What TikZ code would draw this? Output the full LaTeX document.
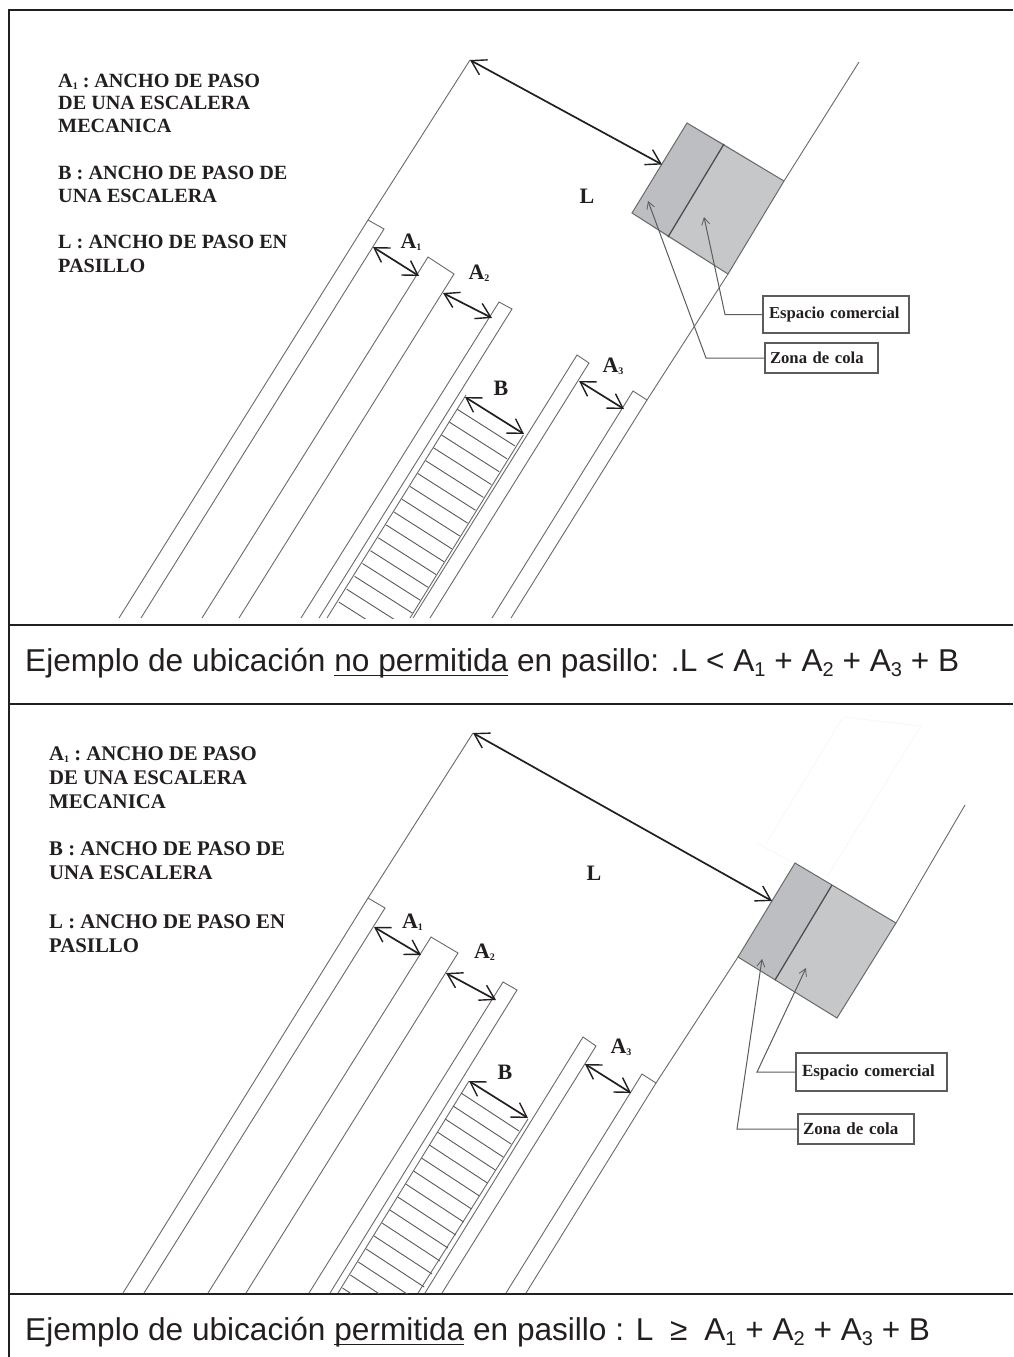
\documentclass[tikz,border=0pt]{standalone}
\usepackage{fontspec}
\setmainfont{Liberation Serif}
\newfontfamily\capfont{Liberation Sans}
\usetikzlibrary{arrows.meta}
\definecolor{ink}{HTML}{231F20}
\definecolor{wall}{HTML}{6A6A6A}
\definecolor{stepc}{HTML}{5A5A5A}
\definecolor{leaderc}{HTML}{5C5C5C}
\definecolor{queue}{HTML}{BDBEC2}
\definecolor{shop}{HTML}{C6C7C9}
\definecolor{ghost}{HTML}{F7F7F7}
\newcommand{\fsz}[1]{\fontsize{#1}{#1}\selectfont}
\newcommand{\lsub}[1]{\raisebox{-0.12em}{\fontsize{10}{10}\selectfont #1}}
\newcommand{\csub}[1]{\raisebox{-0.17em}{\fontsize{20}{20}\selectfont #1}}
\newcommand{\capul}[1]{\sbox0{#1}\rlap{\rule[-5pt]{\wd0}{1.5pt}}\copy0\relax}
\tikzset{
  x=1pt,y=-1pt,
  frameline/.style={draw=ink,line width=2pt},
  wallline/.style={draw=wall,line width=0.9pt},
  stepline/.style={draw=stepc,line width=0.9pt},
  dim/.style={draw=ink,line width=1.7pt,{Straight Barb[length=14pt,width=17pt,line width=1.4pt]}-{Straight Barb[length=14pt,width=17pt,line width=1.4pt]}},
  leader/.style={draw=leaderc,line width=1pt,-{Straight Barb[length=7pt,width=8pt,line width=0.8pt]}},
  box/.style={draw=leaderc,line width=1.1pt,fill=white,inner sep=0pt,anchor=center},
  legendup/.style={font=\bfseries\fsz{20.2}\color{ink},anchor=base west,inner sep=0pt},
  legendlo/.style={font=\bfseries\fsz{20.8}\color{ink},anchor=base west,inner sep=0pt},
  dimlabel/.style={font=\bfseries\fsz{22}\color{ink},inner sep=0pt,anchor=base},
  caption/.style={font=\capfont\fsz{31.6}\color{ink},inner sep=0pt,anchor=base west},
  zone/.style={draw=wall,line width=1pt},
}
\begin{document}
\begin{tikzpicture}
\useasboundingbox (0,0) rectangle (1013,1357);
\fill[white] (0,0) rectangle (1013,1357);
% frame
\draw[frameline] (9,1357) -- (9,10) -- (1013,10);
\draw[frameline] (9,625) -- (1013,625);
\draw[frameline] (9,704) -- (1013,704);
\draw[frameline] (9,1294) -- (1013,1294);

%%%%%%%%%% upper panel
\node[legendup] (ta) at (58,87) {A\lsub{1} :\hspace{-2pt} ANCHO DE PASO};
\node[legendup] (tb) at (58,109) {DE UNA ESCALERA};
\node[legendup] (tc) at (58,132) {MECANICA};
\node[legendup] (td) at (58,179) {B : ANCHO DE PASO DE};
\node[legendup] (te) at (58,202) {UNA ESCALERA};
\node[legendup] (tf) at (58,248) {L : ANCHO DE PASO EN};
\node[legendup] (tg) at (58,272) {PASILLO};

% walls and rails
\draw[wallline] (470,60) coordinate (tLw) -- (368,220) -- (119,618);
\draw[wallline] (368,220) -- (384,229) -- (141,618);
\draw[wallline] (202,618) -- (428,257) -- (454,274) -- (239,618);
\draw[wallline] (301,618) -- (499,302) -- (512,309) -- (319,618);
\draw[wallline] (466,395) -- (327,618);
\draw[wallline] (523.3,435) -- (410,618);
\draw[wallline] (413,618) -- (577,355) -- (589,363) -- (430,618);
\draw[wallline] (492,618) -- (633,391) -- (647,400) -- (511,618);
\draw[wallline] (647,400) -- (728,274);
\draw[wallline] (784,181) -- (859,62);
% steps
\begin{scope}
\clip (300,380) rectangle (560,618);
\foreach \i in {0,...,15}
  \draw[stepline] ({457.3-7.9*\i},{409.3+12.85*\i}) -- ++(57.7,36.7);
\end{scope}
% zone
\fill[queue] (687,123) -- (724,144) -- (668,237) -- (632,213) -- cycle;
\fill[shop] (724,144) -- (784,181) -- (728,274) -- (668,237) -- cycle;
\draw[zone] (687,123) -- (784,181) -- (728,274) -- (632,213) -- cycle;
\draw[draw=ink!80,line width=1.3pt] (724,144) -- (668,237);

% dimensions
\coordinate (tLz) at (662,164.5);
\draw[dim] (tLw) -- (tLz);
\coordinate (tA1a) at (373,247); \coordinate (tA1b) at (419,276);
\draw[dim] (tA1a) -- (tA1b);
\coordinate (tA2a) at (443,293); \coordinate (tA2b) at (492,318);
\draw[dim] (tA2a) -- (tA2b);
\coordinate (tBa) at (465,397); \coordinate (tBb) at (524,434);
\draw[dim] (tBa) -- (tBb);
\coordinate (tA3a) at (579,381); \coordinate (tA3b) at (624,409);
\draw[dim] (tA3a) -- (tA3b);
\node[dimlabel] (tlL) at (587,203) {L};
\node[dimlabel] (tlA1) at (411,248) {A\lsub{1}};
\node[dimlabel] (tlA2) at (479,279) {A\lsub{2}};
\node[dimlabel] (tlB) at (501,395) {B};
\node[dimlabel] (tlA3) at (613,372) {A\lsub{3}};

% leaders
\node[box,font=\bfseries\fsz{16.7}\color{ink},minimum width=146pt,minimum height=37pt,text width=134pt,align=left] (tbE) at (836,314.5) {Espacio comercial};
\node[box,font=\bfseries\fsz{16.7}\color{ink},minimum width=113pt,minimum height=30pt,text width=103pt,align=left] (tbZ) at (821.5,358) {Zona de cola};
\coordinate (tcE) at (725,314.5); \coordinate (teE) at (704,217);
\coordinate (tcZ) at (706,358); \coordinate (teZ) at (648,201);
\draw[leader] (tbE.west) -- (tcE) -- (teE);
\draw[leader] (tbZ.west) -- (tcZ) -- (teZ);

% caption
\node[caption] (tcap) at (25,671) {Ejemplo de ubicación \capul{no permitida} en pasillo: .L < A\csub{1} + A\csub{2} + A\csub{3} + B};

%%%%%%%%%% lower panel
\node[legendlo] (ba) at (49,760) {A\lsub{1} :\hspace{-2pt} ANCHO DE PASO};
\node[legendlo] (bb) at (49,784) {DE UNA ESCALERA};
\node[legendlo] (bc) at (49,808) {MECANICA};
\node[legendlo] (bd) at (49,855) {B : ANCHO DE PASO DE};
\node[legendlo] (be) at (49,879) {UNA ESCALERA};
\node[legendlo] (bf) at (49,928) {L : ANCHO DE PASO EN};
\node[legendlo] (bg) at (49,952) {PASILLO};

% faint outline
\draw[ghost,line width=0.7pt] (766,844) -- (843,717) -- (921,726) -- (827,877);
\draw[ghost,line width=0.7pt] (757,843) -- (794,863);

% walls and rails
\draw[wallline] (473,733) coordinate (bLw) -- (368,898) -- (123,1293);
\draw[wallline] (368,898) -- (385,908) -- (144,1293);
\draw[wallline] (208,1293) -- (431,937) -- (458,953) -- (246,1293);
\draw[wallline] (309,1293) -- (503,982) -- (517,990) -- (330,1293);
\draw[wallline] (469,1081) -- (338,1293);
\draw[wallline] (528,1119) -- (418,1293);
\draw[wallline] (425,1293) -- (583,1037) -- (596,1046) -- (442,1293);
\draw[wallline] (506,1293) -- (642,1074) -- (656,1083) -- (526,1293);
\draw[wallline] (656,1083) -- (738,957);
\draw[wallline] (896,923) -- (965,805);
% steps
\begin{scope}
\clip (300,1060) rectangle (560,1293);
\foreach \i in {0,...,15}
  \draw[stepline] ({461-7.9*\i},{1093+13*\i}) -- ++(58,38);
\end{scope}
% zone
\fill[queue] (795,863) -- (832,885) -- (775,980) -- (738,957) -- cycle;
\fill[shop] (832,885) -- (896,923) -- (837,1018) -- (775,980) -- cycle;
\draw[zone] (795,863) -- (896,923) -- (837,1018) -- (738,957) -- cycle;
\draw[draw=ink!80,line width=1.3pt] (832,885) -- (775,980);

% dimensions
\coordinate (bLz) at (772,901);
\draw[dim] (bLw) -- (bLz);
\coordinate (bA1a) at (374,927); \coordinate (bA1b) at (421,955);
\draw[dim] (bA1a) -- (bA1b);
\coordinate (bA2a) at (446,973); \coordinate (bA2b) at (496,1000);
\draw[dim] (bA2a) -- (bA2b);
\coordinate (bBa) at (469,1081); \coordinate (bBb) at (528,1118);
\draw[dim] (bBa) -- (bBb);
\coordinate (bA3a) at (585,1064); \coordinate (bA3b) at (631,1093);
\draw[dim] (bA3a) -- (bA3b);
\node[dimlabel] (blL) at (594,880) {L};
\node[dimlabel] (blA1) at (412.5,928) {A\lsub{1}};
\node[dimlabel] (blA2) at (484.5,958) {A\lsub{2}};
\node[dimlabel] (blB) at (505,1079) {B};
\node[dimlabel] (blA3) at (621,1053) {A\lsub{3}};

% leaders
\node[box,font=\bfseries\fsz{17}\color{ink},minimum width=151pt,minimum height=38pt,text width=139pt,align=left] (bbE) at (871.5,1072) {Espacio comercial};
\node[box,font=\bfseries\fsz{17}\color{ink},minimum width=116pt,minimum height=30pt,text width=106pt,align=left] (bbZ) at (856,1129) {Zona de cola};
\coordinate (bcE) at (757,1072); \coordinate (beE) at (806,968);
\coordinate (bcZ) at (737,1129); \coordinate (beZ) at (762,959);
\draw[leader] (bbE.west) -- (bcE) -- (beE);
\draw[leader] (bbZ.west) -- (bcZ) -- (beZ);

% caption
\node[caption] (bcap) at (25,1340) {Ejemplo de ubicación \capul{permitida} en pasillo : L\hspace{8pt} ≥\hspace{8pt} A\csub{1} + A\csub{2} + A\csub{3} + B};
\end{tikzpicture}
\end{document}
